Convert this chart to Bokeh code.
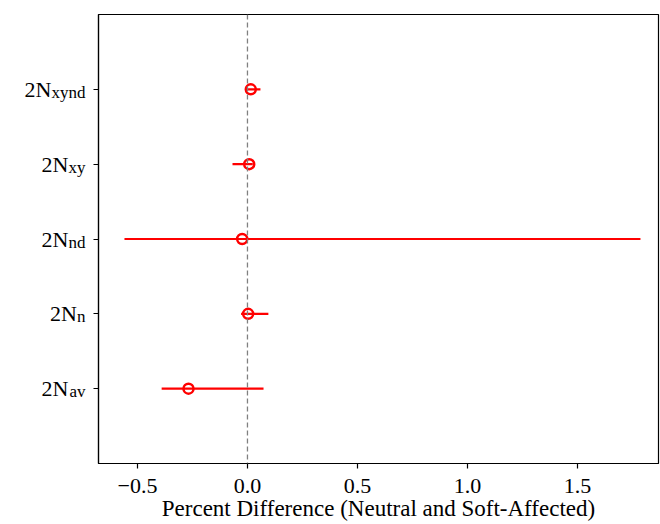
from bokeh.plotting import figure
from bokeh.layouts import row
from bokeh.models import Range1d, FixedTicker, Span, ColumnDataSource
from bokeh.core.properties import value
from bokeh.embed import file_html
from bokeh.resources import INLINE

# ---- data ----
base_label = "2N"
subscripts = ["av", "n", "nd", "xy", "xynd"]
centers = [-0.268, 0.003, -0.024, 0.008, 0.015]
lower = [-0.390, -0.029, -0.559, -0.068, 0.002]
upper = [0.073, 0.095, 1.786, 0.024, 0.059]
x_ticks = [-0.5, 0.0, 0.5, 1.0, 1.5]
x_tick_labels = ["\u22120.5", "0.0", "0.5", "1.0", "1.5"]
x_label = "Percent Difference (Neutral and Soft-Affected)"

FONT = "Liberation Serif"
ypos = list(range(len(subscripts)))
Y_RANGE = (-1, 5)
FRAME_H = 449
TOP, BOTTOM = 14, 61
LABEL_W = 88

# ---- main plot ----
p = figure(frame_width=560, frame_height=FRAME_H, output_backend="svg", toolbar_location=None,
           x_range=Range1d(-0.677, 1.868), y_range=Range1d(*Y_RANGE),
           min_border_left=10, min_border_right=2, min_border_top=TOP, min_border_bottom=BOTTOM)
p.background_fill_color = "white"
p.border_fill_color = "white"
p.grid.visible = False
p.outline_line_color = "black"
p.outline_line_width = 1.2

src = ColumnDataSource(dict(y=ypos, c=centers, lo=lower, hi=upper))

p.add_layout(Span(location=0, dimension="height", line_color="gray", line_width=1.3, line_dash="5 3"))
p.segment(x0="lo", x1="hi", y0="y", y1="y", source=src, line_color="red", line_width=2.2)
p.scatter(x="c", y="y", source=src, size=10, marker="circle", fill_color=None,
          line_color="red", line_width=2.5)

xa = p.xaxis[0]
xa.ticker = FixedTicker(ticks=x_ticks)
xa.major_label_overrides = {t: s for t, s in zip(x_ticks, x_tick_labels)}
xa.axis_label = x_label
for ax in (p.xaxis[0], p.yaxis[0]):
    ax.axis_line_color = "black"
    ax.axis_line_width = 1.2
    ax.major_tick_line_color = "black"
    ax.major_tick_line_width = 1.2
    ax.major_tick_in = 0
    ax.major_tick_out = 5
    ax.minor_tick_line_color = None
    ax.major_label_text_font = FONT
    ax.major_label_text_font_size = "22px"
    ax.major_label_text_color = "black"
    ax.axis_label_text_font = FONT
    ax.axis_label_text_font_size = "23px"
    ax.axis_label_text_font_style = "normal"
    ax.axis_label_text_color = "black"
xa.major_label_standoff = 10
xa.axis_label_standoff = 0

ya = p.yaxis[0]
ya.ticker = FixedTicker(ticks=ypos)
ya.major_label_overrides = {i: "" for i in ypos}
ya.major_label_standoff = 0

# ---- y tick labels with subscripts (separate narrow figure) ----
SUB_SIZE = 17
char_w = 0.5 * SUB_SIZE
lab = figure(frame_width=LABEL_W, frame_height=FRAME_H, output_backend="svg", toolbar_location=None,
             x_range=Range1d(0, LABEL_W), y_range=Range1d(*Y_RANGE),
             x_axis_location=None, y_axis_location=None,
             min_border_left=0, min_border_right=0, min_border_top=TOP, min_border_bottom=BOTTOM)
lab.grid.visible = False
lab.outline_line_color = None
lab.background_fill_color = "white"
lab.border_fill_color = "white"

RIGHT = 85
lsrc = ColumnDataSource(dict(
    y=ypos,
    sub=subscripts,
    base=[base_label] * len(subscripts),
    xs=[RIGHT] * len(subscripts),
    xb=[RIGHT - char_w * len(s) for s in subscripts],
))
lab.text(x="xs", y="y", text="sub", source=lsrc, text_align="right", text_baseline="alphabetic",
         y_offset=3, text_font=value(FONT), text_font_size=f"{SUB_SIZE}px", text_color="black")
lab.text(x="xb", y="y", text="base", source=lsrc, text_align="right", text_baseline="alphabetic",
         y_offset=0, text_font=value(FONT), text_font_size="22px", text_color="black")

layout = row(lab, p, spacing=0)
open("out.html", "w").write(file_html(layout, INLINE))
